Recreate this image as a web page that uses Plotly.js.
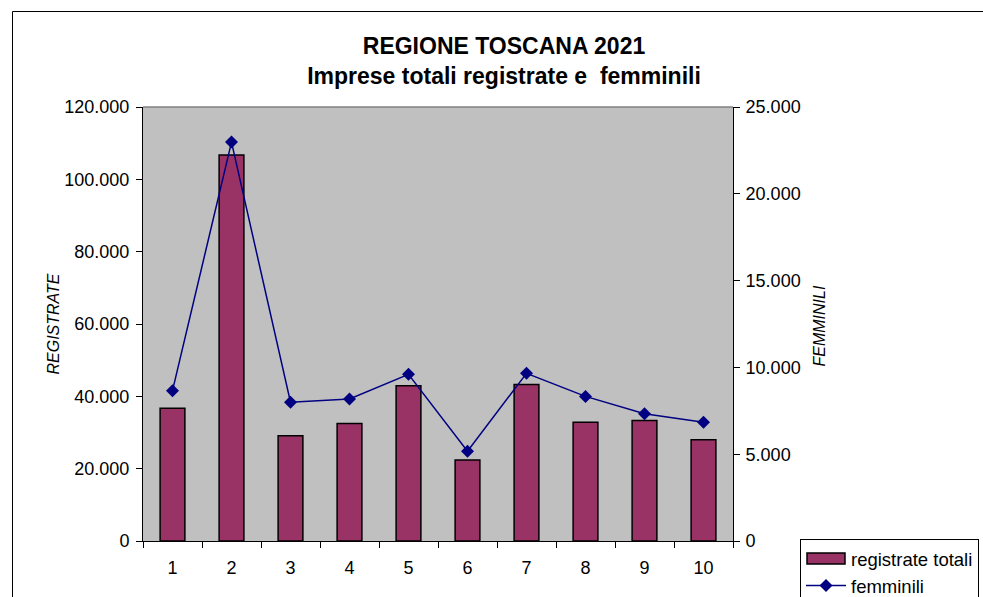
<!DOCTYPE html>
<html><head><meta charset="utf-8">
<script src="https://cdn.plot.ly/plotly-3.0.1.min.js"></script>
<style>html,body{margin:0;padding:0;background:#fff;}#chart{width:983px;height:597px;}</style>
</head><body><div id="chart"></div>
<script>
const categories = ["1","2","3","4","5","6","7","8","9","10"];
const registrateTotali = [36700, 106700, 29100, 32500, 42900, 22400, 43300, 32800, 33300, 28000];
const femminili = [8660, 22980, 7990, 8180, 9600, 5170, 9660, 8330, 7330, 6840];
const titleLines = ["REGIONE TOSCANA 2021", "Imprese totali registrate e\u00A0 femminili"];
const leftAxisTitle = "REGISTRATE";
const rightAxisTitle = "FEMMINILI";

const FONT = "Arial, 'Liberation Sans', sans-serif";
const L = 143, R = 733, T = 107, B = 541, W = 983, H = 597;
const pw = R - L, ph = B - T;

const traces = [
  {type: "bar", name: "registrate totali", x: categories, y: registrateTotali,
   width: 0.42, marker: {color: "#993366", line: {color: "#000000", width: 1.5}}, yaxis: "y"},
  {type: "scatter", mode: "lines+markers", name: "femminili", x: categories, y: femminili,
   yaxis: "y2", line: {color: "#000080", width: 1.5},
   marker: {symbol: "diamond", size: 10, color: "#000080"}}
];

const layout = {
  width: W, height: H,
  margin: {l: L, r: W - R, t: T, b: H - B, pad: 0, autoexpand: false},
  paper_bgcolor: "#ffffff", plot_bgcolor: "#C0C0C0",
  separators: ",.",
  font: {family: FONT, color: "#000000", size: 18},
  title: {text: titleLines.join("<br>"), font: {family: FONT, size: 23, color: "#000", weight: "bold"},
          x: 504 / W, xanchor: "center", xref: "container", y: 1 - 54 / H, yanchor: "top", yref: "container"},
  showlegend: true,
  legend: {x: (800 - L) / pw, xanchor: "left", y: (B - 539) / ph, yanchor: "top",
           bgcolor: "#ffffff", bordercolor: "#000000", borderwidth: 1,
           font: {family: FONT, size: 18.5}, tracegroupgap: 0, itemwidth: 40},
  xaxis: {type: "category", range: [-0.5, 9.5], showline: true, linecolor: "#000", linewidth: 1,
          ticks: "outside", ticklen: 6, tickcolor: "#000", tickson: "boundaries",
          ticklabelstandoff: 10,
          showgrid: false, zeroline: false, fixedrange: true, tickfont: {size: 18}},
  yaxis: {range: [0, 120000], dtick: 20000, tick0: 0, tickformat: ",d", ticklabelstandoff: 3,
          showline: true, linecolor: "#000", linewidth: 1, ticks: "outside", ticklen: 6,
          tickcolor: "#000", showgrid: false, zeroline: false, tickfont: {size: 18}},
  yaxis2: {range: [0, 25000], dtick: 5000, tick0: 0, tickformat: ",d", overlaying: "y", side: "right",
           ticklabelstandoff: 2,
           showline: true, linecolor: "#000", linewidth: 1, ticks: "outside", ticklen: 6,
           tickcolor: "#000", showgrid: false, zeroline: false, tickfont: {size: 18}},
  annotations: [
    {text: leftAxisTitle, xref: "paper", yref: "paper", x: (42 - L) / pw, y: (B - 324) / ph,
     textangle: -90, showarrow: false, font: {family: FONT, size: 16, style: "italic"}},
    {text: rightAxisTitle, xref: "paper", yref: "paper", x: (829 - L) / pw, y: (B - 326) / ph,
     textangle: -90, showarrow: false, font: {family: FONT, size: 16, style: "italic"}}
  ],
  shapes: [
    {type: "rect", xref: "paper", yref: "paper", x0: (12.5 - L) / pw, x1: 2, y0: -1, y1: (B - 11.5) / ph,
     line: {color: "#000", width: 1}, fillcolor: "rgba(0,0,0,0)", layer: "below"},
    {type: "line", xref: "paper", yref: "paper", x0: 0, x1: 1, y0: 1, y1: 1,
     line: {color: "#808080", width: 1.5}}
  ]
};

function widenBarSwatch(gd) {
  const groups = gd.querySelectorAll(".legend g.traces");
  if (!groups.length) return;
  groups[0].querySelectorAll(".legendpoints path").forEach(function (p) {
    p.setAttribute("d", "M-19,5.5H19V-5.5H-19Z");
  });
}

const gd = document.getElementById("chart");
Plotly.newPlot(gd, traces, layout, {displayModeBar: false, staticPlot: true}).then(function () {
  widenBarSwatch(gd);
  setTimeout(function () { widenBarSwatch(gd); }, 50);
});
</script></body></html>
